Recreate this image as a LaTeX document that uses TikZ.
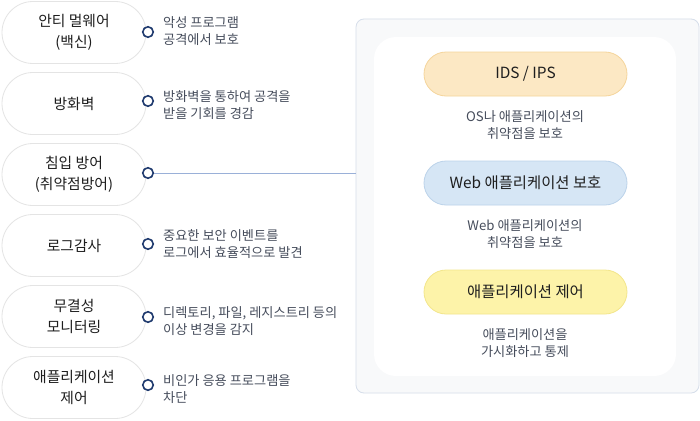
\documentclass[tikz,border=0pt]{standalone}
\usepackage{fontspec}
\newfontfamily\kr{Noto Sans CJK KR}
\definecolor{pillborder}{HTML}{E4E4E4}
\definecolor{pilltext}{HTML}{1E1E1E}
\definecolor{desctext}{HTML}{464D5C}
\definecolor{circblue}{HTML}{1F3A6E}
\definecolor{linkblue}{HTML}{9AB0D8}
\definecolor{outerfill}{HTML}{F8F9FA}
\definecolor{outerdraw}{HTML}{D6DEEA}
\definecolor{idsfill}{HTML}{FCE8C4}
\definecolor{idsdraw}{HTML}{F5D59C}
\definecolor{webfill}{HTML}{D6E6F5}
\definecolor{webdraw}{HTML}{BCD3EA}
\definecolor{appfill}{HTML}{FDF3A9}
\definecolor{appdraw}{HTML}{F3E68C}
\tikzset{
  leftpill/.style={draw=pillborder, line width=0.8pt, fill=white, rounded corners=31pt,
    minimum width=144pt, minimum height=62pt, inner sep=0pt, align=center,
    text=pilltext, font=\kr\fontsize{14.8}{21}\selectfont},
  dot/.style={circle, draw=circblue, line width=1.6pt, fill=white, minimum size=10.5pt, inner sep=0pt},
  desc/.style={anchor=west, align=left, text=desctext, inner sep=0pt,
    font=\kr\fontsize{13.2}{17}\selectfont},
  rightpill/.style={rounded corners=22pt, minimum width=203pt, minimum height=44pt,
    inner sep=0pt, line width=0.8pt, text=pilltext, font=\kr\fontsize{15.4}{18}\selectfont},
  rdesc/.style={align=center, text=desctext, inner sep=0pt, font=\kr\fontsize{13.2}{17}\selectfont},
}
\begin{document}
\begin{tikzpicture}[x=1pt,y=-1pt]
\useasboundingbox (0,0) rectangle (700,420);
\fill[white] (0,0) rectangle (700,420);
% right panel
\node[draw=outerdraw, line width=0.8pt, fill=outerfill, rounded corners=8pt,
  minimum width=343pt, minimum height=374pt, inner sep=0pt] (outer) at (527.5,206) {};
\node[fill=white, rounded corners=22pt, minimum width=302pt, minimum height=339pt,
  inner sep=0pt] (inner) at (525,206.5) {};
% left pills
\node[leftpill] (p1) at (74,32.5) {안티 멀웨어\\(백신)};
\node[leftpill] (p2) at (74,103.5) {방화벽};
\node[leftpill] (p3) at (74,174.5) {침입 방어\\(취약점방어)};
\node[leftpill] (p4) at (74,245.5) {로그감사};
\node[leftpill] (p5) at (74,316.5) {무결성\\모니터링};
\node[leftpill] (p6) at (74,387.5) {애플리케이션\\제어};
% dots
\node[dot] (c1) at (148,32) {};
\node[dot] (c2) at (148,101) {};
\node[dot] (c3) at (148,173) {};
\node[dot] (c4) at (148,244) {};
\node[dot] (c5) at (148,317) {};
\node[dot] (c6) at (148,385) {};
% descriptions
\node[desc] (d1) at (163,31) {악성 프로그램\\공격에서 보호};
\node[desc] (d2) at (163,105) {방화벽을 통하여 공격을\\받을 기회를 경감};
\node[desc] (d4) at (163,244) {중요한 보안 이벤트를\\로그에서 효율적으로 발견};
\node[desc] (d5) at (163,321) {디렉토리, 파일, 레지스트리 등의\\이상 변경을 감지};
\node[desc] (d6) at (163,389) {비인가 응용 프로그램을\\차단};
% connector
\draw[linkblue, line width=0.8pt] (c3.east) -- (c3.east -| outer.west);
% right pills
\node[rightpill, fill=idsfill, draw=idsdraw] (r1) at (525.5,74) {IDS / IPS};
\node[rdesc] (rd1) at (525,125) {OS나 애플리케이션의\\취약점을 보호};
\node[rightpill, fill=webfill, draw=webdraw] (r2) at (525.5,183) {Web 애플리케이션 보호};
\node[rdesc] (rd2) at (525,234) {Web 애플리케이션의\\취약점을 보호};
\node[rightpill, fill=appfill, draw=appdraw] (r3) at (525.5,292) {애플리케이션 제어};
\node[rdesc] (rd3) at (525,343) {애플리케이션을\\가시화하고 통제};
\end{tikzpicture}
\end{document}
